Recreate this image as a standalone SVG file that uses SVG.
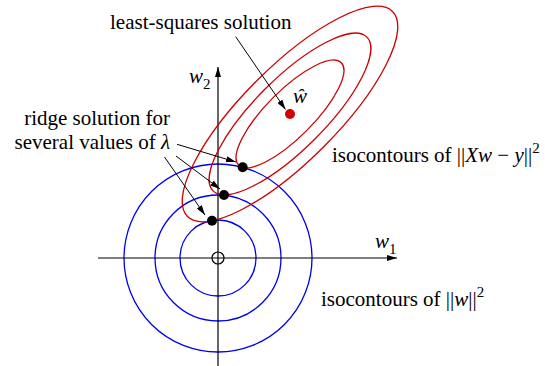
<svg xmlns="http://www.w3.org/2000/svg" width="545" height="366" viewBox="0 0 545 366">
<defs>
<style>
.t{font-family:"Liberation Serif","Times New Roman",serif;font-size:21px;fill:#000}
.i{font-style:italic}
.s{font-size:15px}
.axis{stroke:#000;stroke-width:1.2;fill:none}
.blue{stroke:#0000f0;stroke-width:1.3;fill:none}
.red{stroke:#cc0000;stroke-width:1.3;fill:none}
.arr{stroke:#000;stroke-width:1;fill:none;marker-end:url(#ah)}
</style>
<marker id="ah" viewBox="0 0 10 6" refX="10" refY="3" markerWidth="10" markerHeight="6" markerUnits="userSpaceOnUse" orient="auto">
<path d="M0,0 L10,3 L0,6 Z" fill="#000"/>
</marker>
<marker id="axh" viewBox="0 0 10 6" refX="10" refY="3" markerWidth="10" markerHeight="6" markerUnits="userSpaceOnUse" orient="auto">
<path d="M0,0 L10,3 L0,6 Z" fill="#000"/>
</marker>
</defs>
<rect width="545" height="366" fill="#fff"/>
<g id="circles">
<circle class="blue" cx="218" cy="258" r="38"/>
<circle class="blue" cx="218" cy="258" r="63"/>
<circle class="blue" cx="218" cy="258" r="94"/>
</g>
<g id="axes">
<line class="axis" x1="98" y1="258" x2="397" y2="258" marker-end="url(#axh)"/>
<line class="axis" x1="218" y1="366" x2="218" y2="67" marker-end="url(#axh)"/>
<circle cx="218" cy="258" r="6" fill="none" stroke="#000" stroke-width="1.2"/>
</g>
<g id="ellipses" transform="translate(290,114) rotate(-45)">
<ellipse class="red" cx="0" cy="0" rx="72.5" ry="23.5"/>
<ellipse class="red" cx="0" cy="0" rx="108.75" ry="35.25"/>
<ellipse class="red" cx="0" cy="0" rx="145" ry="47"/>
</g>
<g id="points">
<circle cx="290" cy="114" r="5" fill="#d00000"/>
<circle cx="242.7" cy="167.3" r="5" fill="#000"/>
<circle cx="224" cy="195" r="5" fill="#000"/>
<circle cx="212" cy="220.7" r="5" fill="#000"/>
</g>
<g id="connectors">
<line class="arr" x1="235.7" y1="36.7" x2="285.5" y2="109.5"/>
<line class="arr" x1="177" y1="144.3" x2="236" y2="162"/>
<line class="arr" x1="176" y1="156" x2="220" y2="189"/>
<line class="arr" x1="164.5" y1="157" x2="205" y2="215"/>
</g>
<g id="labels">
<text class="t" x="110" y="29">least-squares solution</text>
<text class="t" x="170" y="125" text-anchor="end">ridge solution for</text>
<text class="t" x="170" y="149" text-anchor="end">several values of <tspan class="i">λ</tspan></text>
<text class="t" x="332" y="162">isocontours of ||<tspan class="i">Xw</tspan> − <tspan class="i">y</tspan>||<tspan class="s" dy="-9">2</tspan></text>
<text class="t" x="321" y="306">isocontours of ||<tspan class="i">w</tspan>||<tspan class="s" dy="-9">2</tspan></text>
<text class="t" x="189" y="83"><tspan class="i">w</tspan><tspan class="s" dy="6">2</tspan></text>
<text class="t" x="375" y="248"><tspan class="i">w</tspan><tspan class="s" dy="6">1</tspan></text>
<text class="t i" x="293" y="103">ŵ</text>
</g>
</svg>
